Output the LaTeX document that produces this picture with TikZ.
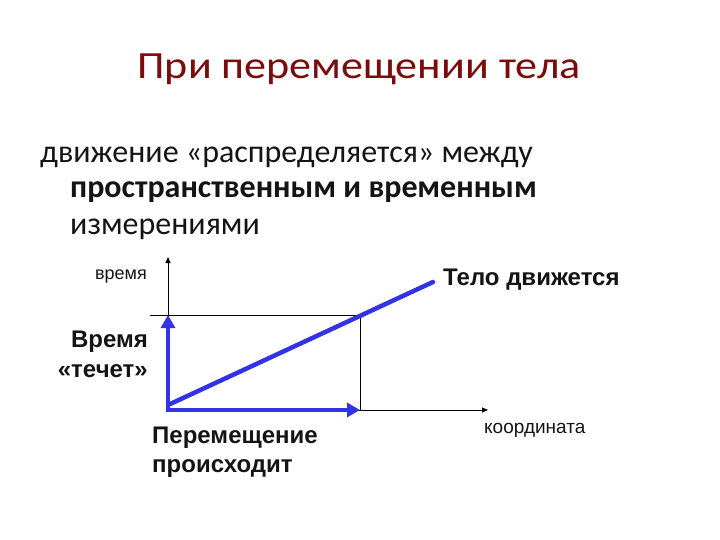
\documentclass[tikz,border=0pt]{standalone}
\usepackage{fontspec}
\setmainfont{Carlito}
\newfontfamily\arialf{Liberation Sans}
\usetikzlibrary{arrows.meta}
\definecolor{titlered}{HTML}{7A0C0C}
\definecolor{txt}{HTML}{141414}
\definecolor{arrblue}{HTML}{3333E6}
\tikzset{
  thinline/.style={draw=black, line width=0.8pt},
  axisarrow/.style={thinline, -{Triangle[length=6pt,width=5pt]}},
  bluearrow/.style={draw=arrblue, line width=4.5pt, -{Triangle[length=13pt,width=14pt]}},
  blueline/.style={draw=arrblue, line width=4.5pt, line cap=round},
  lbl/.style={inner sep=0pt, text=txt, font=\arialf},
  bodytxt/.style={inner sep=0pt, text=txt, anchor=base west, font=\fontsize{32}{38}\selectfont}
}
\begin{document}
\begin{tikzpicture}[x=1pt,y=-1pt]
\useasboundingbox (0,0) rectangle (720,540);
\fill[white] (0,0) rectangle (720,540);
\node[inner sep=0pt, anchor=base, text=titlered, font=\fontsize{38.5}{44}\selectfont] (title) at (359,79) {\scalebox{1.145}[1]{При перемещении тела}};
\node[bodytxt] (l1) at (40,163) {движение «распределяется» между};
\node[bodytxt, font=\fontsize{32}{38}\selectfont\bfseries] (l2) at (70,198) {пространственным и временным};
\node[bodytxt] (l3) at (70,234) {измерениями};

\coordinate (O) at (168,410);
\coordinate (Ytop) at (168,257);
\coordinate (Xend) at (488,410);
\coordinate (Hl) at (150,315);
\coordinate (C) at (360,315);
\coordinate (Cb) at (360,410);
\coordinate (Yb) at (168,315);
\coordinate (Dstart) at (168,405);
\coordinate (Dend) at (433,282);

\draw[axisarrow] (O) -- (Ytop);
\draw[axisarrow] (O) -- (Xend);
\draw[thinline] (Hl) -- (C) -- (Cb);

\draw[blueline] (Dstart) -- (Dend);
\draw[bluearrow] (O) -- (Yb);
\draw[bluearrow] (O) -- (Cb);
\fill[arrblue] (165.75,412.25) rectangle (170.25,407.75);

\node[lbl, anchor=base east, font=\arialf\fontsize{18}{20}\selectfont] (vr) at (147,279) {время};
\node[lbl, anchor=base west, font=\arialf\fontsize{24}{28}\selectfont\bfseries] (td) at (443,285) {Тело движется};
\node[lbl, anchor=north east, align=right, font=\arialf\fontsize{24}{30}\selectfont\bfseries] (vt) at (148,331) {Время\\«течет»};
\node[lbl, anchor=north west, align=left, font=\arialf\fontsize{24}{29}\selectfont\bfseries] (pp) at (152,427) {Перемещение\\происходит};
\node[lbl, anchor=base west, font=\arialf\fontsize{19}{22}\selectfont] (kd) at (484,433) {координата};
\end{tikzpicture}
\end{document}
